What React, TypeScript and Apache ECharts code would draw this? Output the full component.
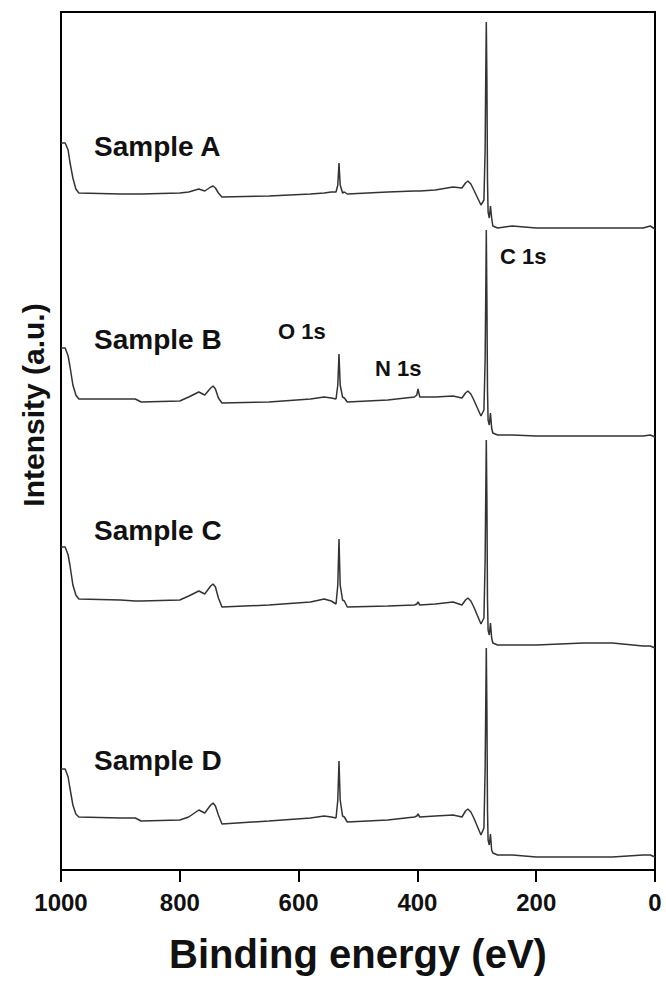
import React, { useEffect, useRef } from "react";
import * as echarts from "echarts";

// Binding energies (eV), shared by all four spectra (descending)
const energies = [
  1000, 993, 988, 985, 980, 975, 970,
  900, 875, 865, 800, 785, 768, 758, 748, 744, 740, 735, 729,
  650, 580, 557, 545, 537, 534, 532, 530, 526, 523, 518,
  450, 405, 401, 399, 396, 370, 340, 325, 319, 315, 310, 305, 293,
  288, 286, 285, 284, 283, 282, 281, 279, 277, 275, 273,
  265, 240, 200, 120, 72, 20, 8, 0,
];

// Stacked intensities (a.u., offset for display)
const sampleA = [
  727, 727, 720, 708, 692, 681, 677,
  676, 676, 676, 677, 678, 681, 679, 683, 684, 682, 677, 673,
  674, 676, 677, 678, 678, 685, 707, 685, 677, 678, 676,
  678, 679, 679, 679, 679, 680, 683, 682, 687, 689, 686, 680, 665,
  670, 720, 790, 848, 790, 690, 658, 652, 664, 652, 644,
  642, 644, 642, 642, 642, 642, 644, 641,
];
const sampleB = [
  522, 522, 514, 504, 485, 475, 471,
  471, 471, 468, 469, 473, 478, 475, 482, 484, 481, 472, 467,
  468, 471, 473, 472, 471, 485, 516, 485, 473, 472, 468,
  470, 473, 475, 481, 473, 473, 474, 472, 477, 479, 476, 470, 454,
  460, 510, 570, 640, 570, 480, 450, 445, 457, 442, 437,
  435, 435, 434, 434, 434, 434, 435, 433,
];
const sampleC = [
  323, 323, 315, 305, 285, 275, 271,
  270, 269, 269, 270, 274, 279, 276, 284, 286, 283, 272, 263,
  265, 268, 271, 269, 266, 285, 331, 285, 270, 269, 263,
  264, 265, 266, 268, 265, 266, 268, 265, 270, 272, 269, 263, 246,
  252, 310, 370, 430, 370, 270, 240, 235, 247, 232, 227,
  225, 225, 225, 227, 227, 224, 224, 222,
];
const sampleD = [
  101, 101, 93, 82, 65, 56, 53,
  52, 52, 49, 50, 53, 60, 57, 65, 67, 64, 55, 46,
  49, 52, 54, 53, 52, 70, 109, 70, 54, 53, 48,
  50, 53, 54, 56, 53, 54, 55, 53, 59, 61, 58, 52, 35,
  42, 100, 160, 222, 160, 60, 30, 25, 36, 20, 17,
  15, 15, 13, 13, 13, 15, 15, 13,
];

const sampleNames = ["Sample A", "Sample B", "Sample C", "Sample D"];
const peakNames = ["O 1s", "N 1s", "C 1s"];
const xTicks = [0, 200, 400, 600, 800, 1000];

const FONT = '"Liberation Sans", Arial, Helvetica, sans-serif';

export default function App() {
  const ref = useRef<HTMLDivElement>(null);

  useEffect(() => {
    if (!ref.current) return;
    const chart = echarts.init(ref.current, undefined, { renderer: "svg" });
    const all = [sampleA, sampleB, sampleC, sampleD];
    const series = all.map((vals, i) => ({
      name: sampleNames[i],
      type: "line",
      data: energies.map((e, j) => [e, vals[j]]),
      showSymbol: false,
      smooth: false,
      lineStyle: { color: "#333333", width: 1.5 },
      z: 2,
    }));

    const sampleLabelPos = [
      [94, 146],
      [94, 339],
      [94, 530],
      [94, 760],
    ];
    const peakLabelPos = [
      [278, 331],
      [375, 368],
      [500, 256],
    ];

    const graphics: any[] = [];
    sampleNames.forEach((s, i) => {
      graphics.push({
        type: "text",
        x: sampleLabelPos[i][0],
        y: sampleLabelPos[i][1],
        style: {
          text: s,
          font: `bold 28px ${FONT}`,
          fill: "#111",
          textAlign: "left",
          textVerticalAlign: "middle",
        },
        z: 10,
      });
    });
    peakNames.forEach((s, i) => {
      graphics.push({
        type: "text",
        x: peakLabelPos[i][0],
        y: peakLabelPos[i][1],
        style: {
          text: s,
          font: `bold 22px ${FONT}`,
          fill: "#111",
          textAlign: "left",
          textVerticalAlign: "middle",
        },
        z: 10,
      });
    });
    graphics.push({
      type: "text",
      x: 33,
      y: 405,
      rotation: Math.PI / 2,
      style: {
        text: "Intensity (a.u.)",
        font: `bold 30px ${FONT}`,
        fill: "#111",
        textAlign: "center",
        textVerticalAlign: "middle",
      },
      z: 10,
    });

    chart.setOption({
      animation: false,
      backgroundColor: "#ffffff",
      grid: {
        left: 61,
        right: 11,
        top: 12,
        bottom: 113,
        show: true,
        borderColor: "#000",
        borderWidth: 2,
        containLabel: false,
      },
      xAxis: {
        type: "value",
        min: 0,
        max: 1000,
        interval: 200,
        inverse: true,
        name: "Binding energy (eV)",
        nameLocation: "middle",
        nameGap: 64,
        nameTextStyle: {
          fontFamily: FONT,
          fontWeight: "bold",
          fontSize: 40,
          color: "#111",
        },
        axisLine: { show: true, lineStyle: { color: "#000", width: 2 } },
        axisTick: {
          show: true,
          inside: false,
          length: 12,
          lineStyle: { color: "#000", width: 2 },
        },
        axisLabel: {
          show: true,
          fontFamily: FONT,
          fontWeight: "bold",
          fontSize: 24,
          color: "#111",
          margin: 20,
          customValues: xTicks,
          formatter: (v: number) => String(v),
        },
        splitLine: { show: false },
      },
      yAxis: {
        type: "value",
        min: 0,
        max: 858,
        axisLine: { show: true, lineStyle: { color: "#000", width: 2 } },
        axisTick: { show: false },
        axisLabel: { show: false },
        splitLine: { show: false },
      },
      graphic: graphics,
      series,
    });
    return () => chart.dispose();
  }, []);

  return (
    <div
      ref={ref}
      style={{
        position: "fixed",
        left: 0,
        top: 0,
        width: 666,
        height: 983,
        background: "#fff",
      }}
    />
  );
}
